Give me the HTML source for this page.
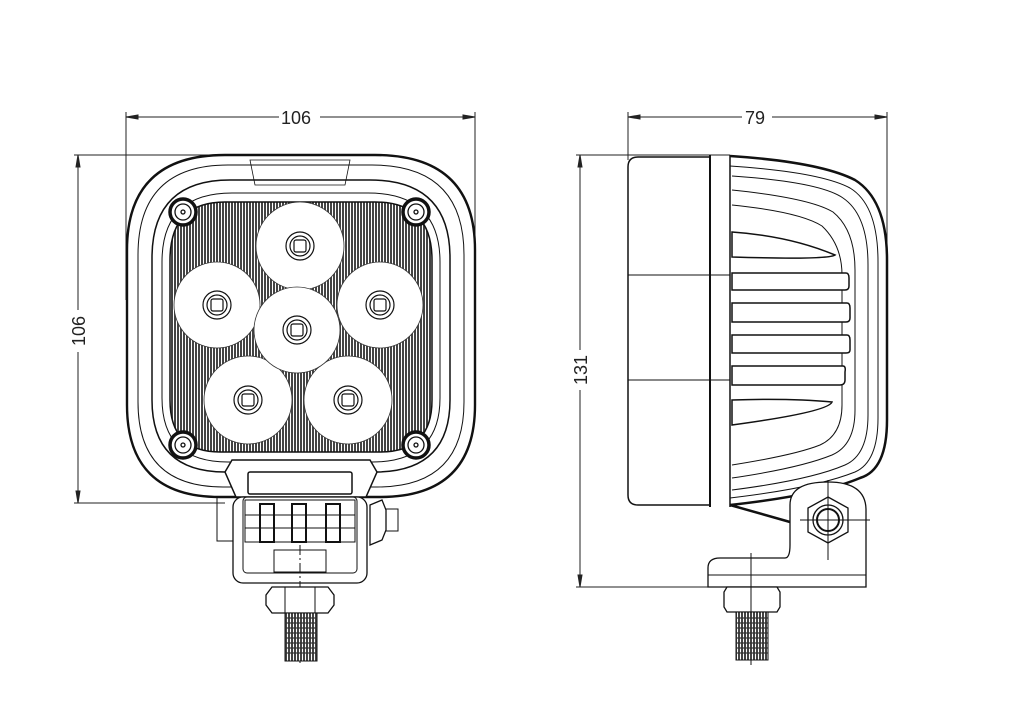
<!DOCTYPE html>
<html><head><meta charset="utf-8"><style>
html,body{margin:0;padding:0;background:#fff;}
svg{display:block;}
text{font-family:"Liberation Sans",sans-serif;font-size:18px;fill:#222;}
</style></head><body>
<svg width="1017" height="708" viewBox="0 0 1017 708" xmlns="http://www.w3.org/2000/svg">
<defs>
<pattern id="hatch" width="3" height="10" patternUnits="userSpaceOnUse">
<rect width="3" height="10" fill="#fff"/><rect width="2" height="10" fill="#444"/>
</pattern>
</defs>
<g fill="none" stroke="#222" stroke-width="1">
<line x1="126" y1="117" x2="279" y2="117"/><line x1="320" y1="117" x2="475" y2="117"/>
<line x1="126" y1="112" x2="126" y2="300"/><line x1="475" y1="112" x2="475" y2="300"/>
<polygon points="126,117 138,115 138,119" fill="#222"/><polygon points="475,117 463,115 463,119" fill="#222"/>
<line x1="78" y1="155" x2="78" y2="310"/><line x1="78" y1="352" x2="78" y2="503"/>
<line x1="74" y1="155" x2="330" y2="155"/><line x1="74" y1="503" x2="225" y2="503"/>
<polygon points="78,155 76,167 80,167" fill="#222"/><polygon points="78,503 76,491 80,491" fill="#222"/>
<line x1="628" y1="117" x2="742" y2="117"/><line x1="772" y1="117" x2="887" y2="117"/>
<line x1="628" y1="112" x2="628" y2="160"/><line x1="887" y1="112" x2="887" y2="300"/>
<polygon points="628,117 640,115 640,119" fill="#222"/><polygon points="887,117 875,115 875,119" fill="#222"/>
<line x1="580" y1="155" x2="580" y2="350"/><line x1="580" y1="390" x2="580" y2="587"/>
<line x1="576" y1="155" x2="730" y2="155"/><line x1="576" y1="587" x2="866" y2="587"/>
<polygon points="580,155 578,167 582,167" fill="#222"/><polygon points="580,587 578,575 582,575" fill="#222"/>
</g>
<text x="281" y="124">106</text>
<text x="745" y="124">79</text>
<text transform="translate(85,331) rotate(-90)" text-anchor="middle">106</text>
<text transform="translate(587,370) rotate(-90)" text-anchor="middle">131</text>

<g fill="none" stroke="#111">
<path d="M225,155 H375 Q475,155 475,250 V405 Q475,497 380,497 H220 Q127,497 127,405 V250 Q127,155 225,155 Z" stroke-width="2.4"/>
<path d="M228,165 H372 Q464,165 464,255 V402 Q464,487 377,487 H223 Q138,487 138,402 V255 Q138,165 228,165 Z"/>
<path d="M230,180 H370 Q450,180 450,258 V400 Q450,472 375,472 H225 Q152,472 152,400 V258 Q152,180 230,180 Z" stroke-width="1.5"/>
<path d="M232,193 H368 Q440,193 440,262 V398 Q440,462 372,462 H228 Q162,462 162,398 V262 Q162,193 232,193 Z"/>
<path d="M250,160 H350 L345,185 H255 Z" stroke-width="0.8"/>
<path d="M225,202 H375 Q432,202 432,260 V400 Q432,452 380,452 H220 Q170,452 170,400 V260 Q170,202 225,202 Z" fill="url(#hatch)" stroke-width="1.5"/>
<g fill="#fff" stroke="#333" stroke-width="0.8">
<circle cx="300" cy="246" r="44"/>
<circle cx="217" cy="305" r="43"/>
<circle cx="380" cy="305" r="43"/>
<circle cx="248" cy="400" r="44"/>
<circle cx="348" cy="400" r="44"/>
<circle cx="297" cy="330" r="43"/>
</g>
<g stroke-width="1.2" fill="#fff">
<g transform="translate(300,246)"><circle r="14"/><circle r="10"/><rect x="-6" y="-6" width="12" height="12" rx="2"/></g>
<g transform="translate(217,305)"><circle r="14"/><circle r="10"/><rect x="-6" y="-6" width="12" height="12" rx="2"/></g>
<g transform="translate(380,305)"><circle r="14"/><circle r="10"/><rect x="-6" y="-6" width="12" height="12" rx="2"/></g>
<g transform="translate(297,330)"><circle r="14"/><circle r="10"/><rect x="-6" y="-6" width="12" height="12" rx="2"/></g>
<g transform="translate(248,400)"><circle r="14"/><circle r="10"/><rect x="-6" y="-6" width="12" height="12" rx="2"/></g>
<g transform="translate(348,400)"><circle r="14"/><circle r="10"/><rect x="-6" y="-6" width="12" height="12" rx="2"/></g>
</g>
<g stroke-width="1.3">
<g transform="translate(183,212)"><circle r="13" stroke-width="3.5" fill="#fff"/><circle r="8"/><circle r="2"/></g>
<g transform="translate(416,212)"><circle r="13" stroke-width="3.5" fill="#fff"/><circle r="8"/><circle r="2"/></g>
<g transform="translate(183,445)"><circle r="13" stroke-width="3.5" fill="#fff"/><circle r="8"/><circle r="2"/></g>
<g transform="translate(416,445)"><circle r="13" stroke-width="3.5" fill="#fff"/><circle r="8"/><circle r="2"/></g>
</g>
<path d="M232,460 H370 L377,472 L366,497 H236 L225,472 Z" fill="#fff" stroke-width="1.5"/>
<rect x="248" y="472" width="104" height="22" rx="2" stroke-width="1.5"/>
<rect x="217" y="497" width="20" height="44"/>
<rect x="233" y="497" width="134" height="86" rx="10" fill="#fff" stroke-width="1.3"/>
<rect x="243" y="497" width="114" height="76" rx="4"/>
<rect x="245" y="500" width="110" height="42"/>
<rect x="260" y="504" width="14" height="38" stroke-width="2"/>
<rect x="292" y="504" width="14" height="38" stroke-width="2"/>
<rect x="326" y="504" width="14" height="38" stroke-width="2"/>
<line x1="245" y1="515" x2="355" y2="515"/><line x1="245" y1="528" x2="355" y2="528"/>
<rect x="274" y="550" width="52" height="22"/><line x1="300" y1="545" x2="300" y2="665" stroke-dasharray="10,3,2,3"/>
<path d="M370,505 L382,500 L386,510 L386,530 L382,540 L370,545 Z" stroke-width="1.3"/>
<rect x="386" y="509" width="12" height="22"/>
<path d="M272,587 H328 L334,595 V605 L328,613 H272 L266,605 V595 Z" fill="#fff" stroke-width="1.3"/>
<line x1="285" y1="587" x2="285" y2="613"/><line x1="315" y1="587" x2="315" y2="613"/>
<rect x="285" y="613" width="32" height="48" fill="url(#hatch)"/>
</g>
<g stroke="#333" stroke-width="1.2">
<line x1="285" y1="618" x2="317" y2="618"/><line x1="285" y1="623" x2="317" y2="623"/><line x1="285" y1="628" x2="317" y2="628"/><line x1="285" y1="633" x2="317" y2="633"/><line x1="285" y1="638" x2="317" y2="638"/><line x1="285" y1="643" x2="317" y2="643"/><line x1="285" y1="648" x2="317" y2="648"/><line x1="285" y1="653" x2="317" y2="653"/>
</g>

<g fill="none" stroke="#111">
<path d="M710,157 H638 Q628,157 628,167 V495 Q628,505 638,505 H710" stroke-width="1.5"/>
<line x1="710" y1="155" x2="710" y2="507" stroke-width="2"/>
<line x1="730" y1="155" x2="730" y2="507" stroke-width="1.5"/>
<line x1="628" y1="275" x2="730" y2="275"/><line x1="628" y1="380" x2="730" y2="380"/>
<path d="M730,156 Q820,162 855,180 Q887,200 887,260 V420 Q887,470 860,478 Q820,495 730,505" stroke-width="2.5"/>
<path d="M730,166 Q820,172 850,188 Q878,205 878,262 V418 Q878,462 855,472 Q815,488 730,498"/>
<path d="M732,176 Q820,182 843,198 Q868,215 868,265 V415 Q868,455 845,465 Q810,480 732,490"/>
<path d="M732,190 Q810,198 833,212 Q855,230 855,270 V410 Q855,445 832,455 Q800,468 732,478"/>
<path d="M732,205 Q800,212 822,226 Q842,245 842,275 V405 Q842,435 820,445 Q795,455 732,465"/>
<g stroke-width="1.5" fill="#fff">
<path d="M732,232 Q790,236 835,255 Q828,260 732,257 Z"/>
<path d="M732,273 H846 Q849,273 849,278 V286 Q849,290 845,290 H732 Z"/>
<path d="M732,303 H847 Q850,303 850,308 V318 Q850,322 846,322 H732 Z"/>
<path d="M732,335 H847 Q850,335 850,340 V350 Q850,353 846,353 H732 Z"/>
<path d="M732,366 H843 Q846,366 845,372 V380 Q845,385 840,385 H732 Z"/>
<path d="M732,400 Q790,398 832,402 Q828,412 732,425 Z"/>
</g>
<path d="M730,505 L790,522" stroke-width="2.5"/>
<path d="M708,587 V568 Q708,558 720,558 H785 Q790,558 790,545 V505 Q790,482 828,482 Q866,482 866,510 V587 Z" fill="#fff" stroke-width="1.3"/>
<line x1="708" y1="575" x2="866" y2="575"/>
<path d="M828,497 L848,508 V532 L828,543 L808,532 V508 Z" stroke-width="1.3"/>
<circle cx="828" cy="520" r="15" stroke-width="1.3"/><circle cx="828" cy="520" r="11" stroke-width="2"/>
<line x1="800" y1="520" x2="870" y2="520"/><line x1="828" y1="480" x2="828" y2="560"/>
<line x1="751" y1="553" x2="751" y2="665"/>
<path d="M727,587 H777 L780,592 V607 L777,612 H727 L724,607 V592 Z" fill="#fff" stroke-width="1.3"/>
<line x1="751" y1="587" x2="751" y2="612"/>
<rect x="736" y="612" width="32" height="48" fill="url(#hatch)"/>
</g>
<g stroke="#333" stroke-width="1.2">
<line x1="736" y1="618" x2="768" y2="618"/><line x1="736" y1="623" x2="768" y2="623"/><line x1="736" y1="628" x2="768" y2="628"/><line x1="736" y1="633" x2="768" y2="633"/><line x1="736" y1="638" x2="768" y2="638"/><line x1="736" y1="643" x2="768" y2="643"/><line x1="736" y1="648" x2="768" y2="648"/><line x1="736" y1="653" x2="768" y2="653"/>
</g>
</svg>
</body></html>
